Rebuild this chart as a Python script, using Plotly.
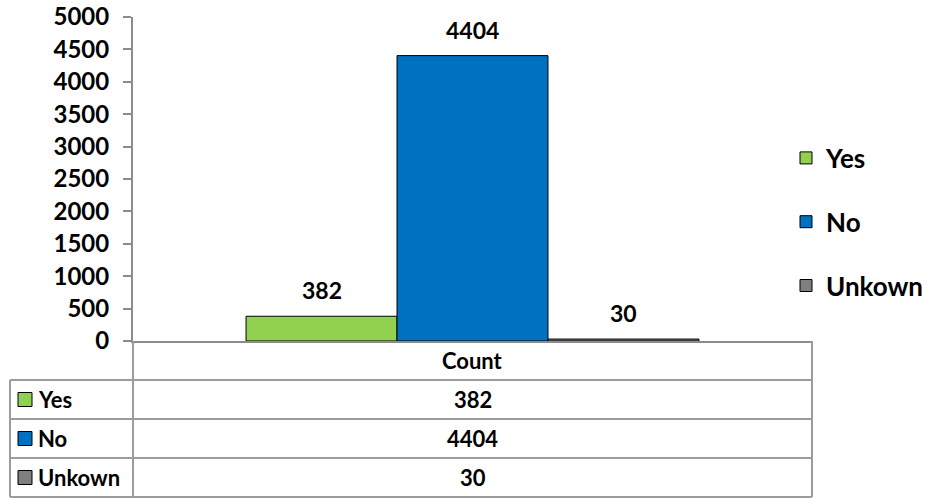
import plotly.graph_objects as go

# ---- data ----
category = ["Count"]
series_names = ["Yes", "No", "Unkown"]
series_values = [382, 4404, 30]
series_colors = ["#92D050", "#0070C0", "#7F7F7F"]
y_ticks = [0, 500, 1000, 1500, 2000, 2500, 3000, 3500, 4000, 4500, 5000]

W, H = 945, 498
L, R, T, B = 133, 133, 17, 157
PW, PH = W - L - R, H - T - B
BARGAP = 0.333

def px_x(px):
    return (px - L) / PW

def px_y(py):
    return (H - B - py) / PH

FONT = "Lato, 'Open Sans', sans-serif"

fig = go.Figure()
for i, (name, val, col) in enumerate(zip(series_names, series_values, series_colors)):
    fig.add_trace(go.Bar(
        name=name, x=category, y=[val],
        marker=dict(color=col, line=dict(color="#000000", width=1)),
        legendgroup=name,
        hoverinfo="name+y",
    ))

# bar value labels (shifted to each bar's centre inside the group)
n = len(series_values)
bar_px = PW * (1 - BARGAP) / n
for i, val in enumerate(series_values):
    fig.add_annotation(
        x=category[0], y=val, xref="x", yref="y",
        text=str(val), showarrow=False,
        xshift=(i - (n - 1) / 2) * bar_px, yshift=10,
        yanchor="bottom", xanchor="center",
        font=dict(family=FONT, size=23, color="#000000", weight=700),
    )

# ---- data table below the plot ----
line_col = "#9C9C9C"
row_tops = [341, 380, 419, 458, 497]
left_px, mid_px, right_px = 10, 133, 812
shapes = []
for py in row_tops[1:]:
    shapes.append(dict(type="line", xref="paper", yref="paper",
                       x0=px_x(left_px), x1=px_x(right_px), y0=px_y(py), y1=px_y(py),
                       line=dict(color=line_col, width=2)))
shapes.append(dict(type="line", xref="paper", yref="paper",
                   x0=px_x(left_px), x1=px_x(left_px), y0=px_y(380), y1=px_y(497),
                   line=dict(color=line_col, width=2)))
shapes.append(dict(type="line", xref="paper", yref="paper",
                   x0=px_x(mid_px), x1=px_x(mid_px), y0=px_y(341), y1=px_y(497),
                   line=dict(color=line_col, width=2)))
shapes.append(dict(type="line", xref="paper", yref="paper",
                   x0=px_x(right_px), x1=px_x(right_px), y0=px_y(341), y1=px_y(497),
                   line=dict(color=line_col, width=2)))

tfont = dict(family=FONT, size=22, color="#000000", weight=700)
fig.add_annotation(x=px_x((mid_px + right_px) / 2), y=px_y((341 + 380) / 2),
                   xref="paper", yref="paper", text=category[0], showarrow=False,
                   xanchor="center", yanchor="middle", font=tfont)
for i, (name, val, col) in enumerate(zip(series_names, series_values, series_colors)):
    top, bot = row_tops[i + 1], row_tops[i + 2]
    cy = (top + bot) / 2
    shapes.append(dict(type="rect", xref="paper", yref="paper",
                       x0=px_x(18), x1=px_x(32), y0=px_y(cy - 7), y1=px_y(cy + 7),
                       fillcolor=col, line=dict(color="#000000", width=1)))
    fig.add_annotation(x=px_x(36), y=px_y(cy), xref="paper", yref="paper",
                       text=name, showarrow=False, xanchor="left", yanchor="middle",
                       font=tfont)
    fig.add_annotation(x=px_x((mid_px + right_px) / 2), y=px_y(cy),
                       xref="paper", yref="paper", text=str(val),
                       showarrow=False, xanchor="center", yanchor="middle",
                       font=tfont)

fig.update_layout(
    width=W, height=H,
    margin=dict(l=L, r=R, t=T, b=B, autoexpand=False),
    paper_bgcolor="white", plot_bgcolor="white",
    barmode="group", bargap=BARGAP, bargroupgap=0,
    shapes=shapes,
    font=dict(family=FONT, color="#000000"),
    legend=dict(
        x=px_x(786), y=px_y(222), xanchor="left", yanchor="middle",
        font=dict(family=FONT, size=26, color="#000000", weight=700),
        tracegroupgap=27, bgcolor="rgba(0,0,0,0)",
    ),
    showlegend=True,
    xaxis=dict(showticklabels=False, ticks="", showline=True,
               linecolor="#8C8C8C", linewidth=2, showgrid=False, zeroline=False,
               fixedrange=True),
    yaxis=dict(range=[0, 5000], tickvals=y_ticks, ticks="outside", ticklen=8,
               tickcolor="#8C8C8C", tickwidth=1.5, showline=True,
               linecolor="#8C8C8C", linewidth=2, showgrid=False, zeroline=False,
               tickfont=dict(family=FONT, size=24, color="#000000", weight=700),
               ticklabelstandoff=9),
)

fig.write_html("out.html",
               config={"displayModeBar": False},
               post_script="document.body.style.margin='0';document.body.style.overflow='hidden';")
